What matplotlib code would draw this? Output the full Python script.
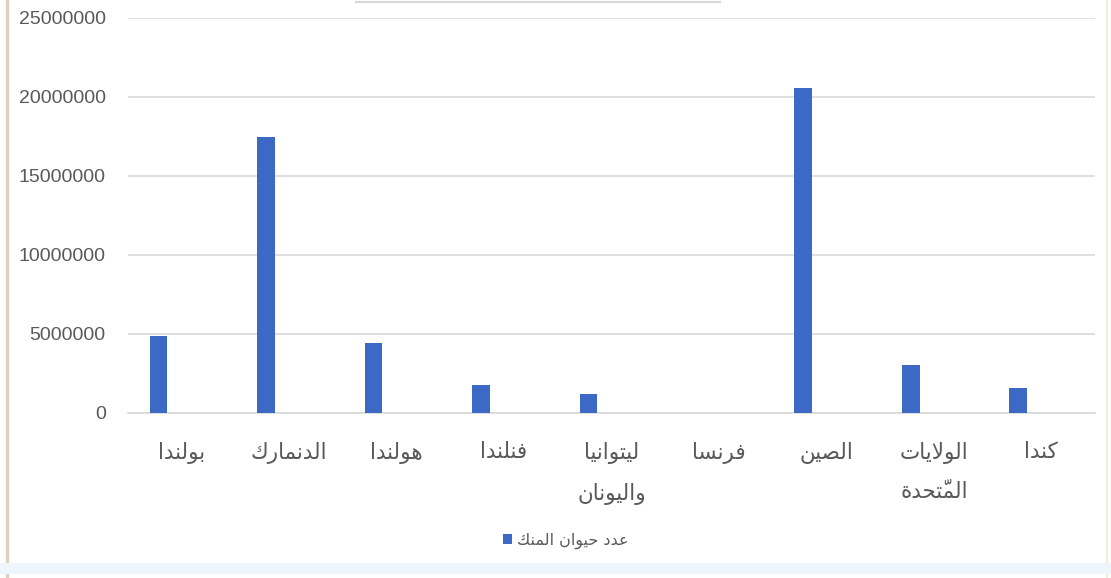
import matplotlib
matplotlib.use("Agg")
import matplotlib.pyplot as plt
from matplotlib.lines import Line2D
from matplotlib.patches import Patch

# Data
countries = ["بولندا", "الدنمارك", "هولندا", "فنلندا", "ليتوانيا\nواليونان",
             "فرنسا", "الصين", "الولايات\nالمتّحدة", "كندا"]
mink_counts = [4900000, 17450000, 4420000, 1780000, 1200000,
               0, 20570000, 3040000, 1600000]
series_name = "عدد حيوان المنك"
y_ticks = [0, 5000000, 10000000, 15000000, 20000000, 25000000]

bar_color = "#3C68C6"
grid_color = "#D9D9D9"
text_color = "#595959"

###################
# Arabic shaping  #
###################
# matplotlib has no complex text layout, so pick the contextual glyphs
# (presentation forms) ourselves and lay the text out right to left.
FORMS = {
    "ا": (0xFE8D, 0xFE8E, None, None),
    "ب": (0xFE8F, 0xFE90, 0xFE91, 0xFE92),
    "ة": (0xFE93, 0xFE94, None, None),
    "ت": (0xFE95, 0xFE96, 0xFE97, 0xFE98),
    "ح": (0xFEA1, 0xFEA2, 0xFEA3, 0xFEA4),
    "د": (0xFEA9, 0xFEAA, None, None),
    "ر": (0xFEAD, 0xFEAE, None, None),
    "س": (0xFEB1, 0xFEB2, 0xFEB3, 0xFEB4),
    "ص": (0xFEB9, 0xFEBA, 0xFEBB, 0xFEBC),
    "ع": (0xFEC9, 0xFECA, 0xFECB, 0xFECC),
    "ف": (0xFED1, 0xFED2, 0xFED3, 0xFED4),
    "ك": (0xFED9, 0xFEDA, 0xFEDB, 0xFEDC),
    "ل": (0xFEDD, 0xFEDE, 0xFEDF, 0xFEE0),
    "م": (0xFEE1, 0xFEE2, 0xFEE3, 0xFEE4),
    "ن": (0xFEE5, 0xFEE6, 0xFEE7, 0xFEE8),
    "ه": (0xFEE9, 0xFEEA, 0xFEEB, 0xFEEC),
    "و": (0xFEED, 0xFEEE, None, None),
    "ي": (0xFEF1, 0xFEF2, 0xFEF3, 0xFEF4),
    "لا": (0xFEFB, 0xFEFC, None, None),
}


def is_mark(ch):
    return 0x064B <= ord(ch) <= 0x0652


def shape_line(text):
    # split into clusters: base letter + combining marks
    clusters = []
    for ch in text:
        if is_mark(ch) and clusters:
            clusters[-1][1] += ch
        elif ch == "ا" and clusters and clusters[-1][0] == "ل" and not clusters[-1][1]:
            clusters[-1][0] = "لا"
        else:
            clusters.append([ch, ""])
    out = []
    for i, (base, marks) in enumerate(clusters):
        if base not in FORMS:
            out.append(base + marks)
            continue
        prev = clusters[i - 1][0] if i > 0 else None
        nxt = clusters[i + 1][0] if i + 1 < len(clusters) else None
        f = FORMS[base]
        join_prev = prev in FORMS and FORMS[prev][2] is not None
        join_next = f[2] is not None and nxt in FORMS
        if join_prev and join_next:
            code = f[3]
        elif join_prev:
            code = f[1]
        elif join_next:
            code = f[2]
        else:
            code = f[0]
        out.append(chr(code) + marks)
    return "".join(reversed(out))


def shape(text):
    return "\n".join(shape_line(line) for line in text.split("\n"))


plt.rcParams["font.family"] = ["DejaVu Sans"]

fig = plt.figure(figsize=(11.11, 5.78), dpi=100)
ax = fig.add_axes([0.1152, 0.2855, 0.8704, 0.6834])

x = list(range(len(countries)))
ax.bar([i - 0.215 for i in x], mink_counts, width=0.165, color=bar_color, zorder=3)

ax.set_xlim(-0.5, len(countries) - 0.5)
ax.set_ylim(0, 25000000)
ax.set_yticks(y_ticks)
ax.set_yticklabels([str(v) for v in y_ticks], fontfamily="Liberation Sans",
                   fontsize=14, color=text_color)
ax.set_xticks(x)
ax.set_xticklabels([shape(c) for c in countries], fontsize=15.5,
                   color=text_color, linespacing=2.1, va="top")
ax.tick_params(axis="both", length=0)
ax.tick_params(axis="y", pad=16)
ax.tick_params(axis="x", pad=21)
ax.grid(axis="y", color=grid_color, linewidth=1.2, zorder=0)
for s in ["top", "right", "left"]:
    ax.spines[s].set_visible(False)
ax.spines["bottom"].set_color(grid_color)
ax.spines["bottom"].set_linewidth(1.2)

# Legend: marker on the left of the Arabic text
handle = Patch(facecolor=bar_color, edgecolor="none")
fig.legend([handle], [shape(series_name)], loc="center",
           bbox_to_anchor=(566 / 1111, 1 - 541 / 578), frameon=False,
           markerfirst=True, fontsize=11.5, handlelength=0.55, handleheight=0.55,
           labelcolor=text_color, handletextpad=0.35)

# screenshot frame remnants
fig.add_artist(Line2D([0.006, 0.006], [0, 1], color="#DCD3C2", linewidth=2.5))
fig.add_artist(Line2D([0.996, 0.996], [0, 1], color="#F3EBD8", linewidth=1.5))
fig.add_artist(Line2D([0.0, 1.0], [0.018, 0.018], color="#EEF6FB", linewidth=8))
fig.add_artist(Line2D([0.32, 0.648], [0.997, 0.997], color="#D8D8D8", linewidth=1.5))

fig.savefig("out.png", dpi=100, facecolor="white")
